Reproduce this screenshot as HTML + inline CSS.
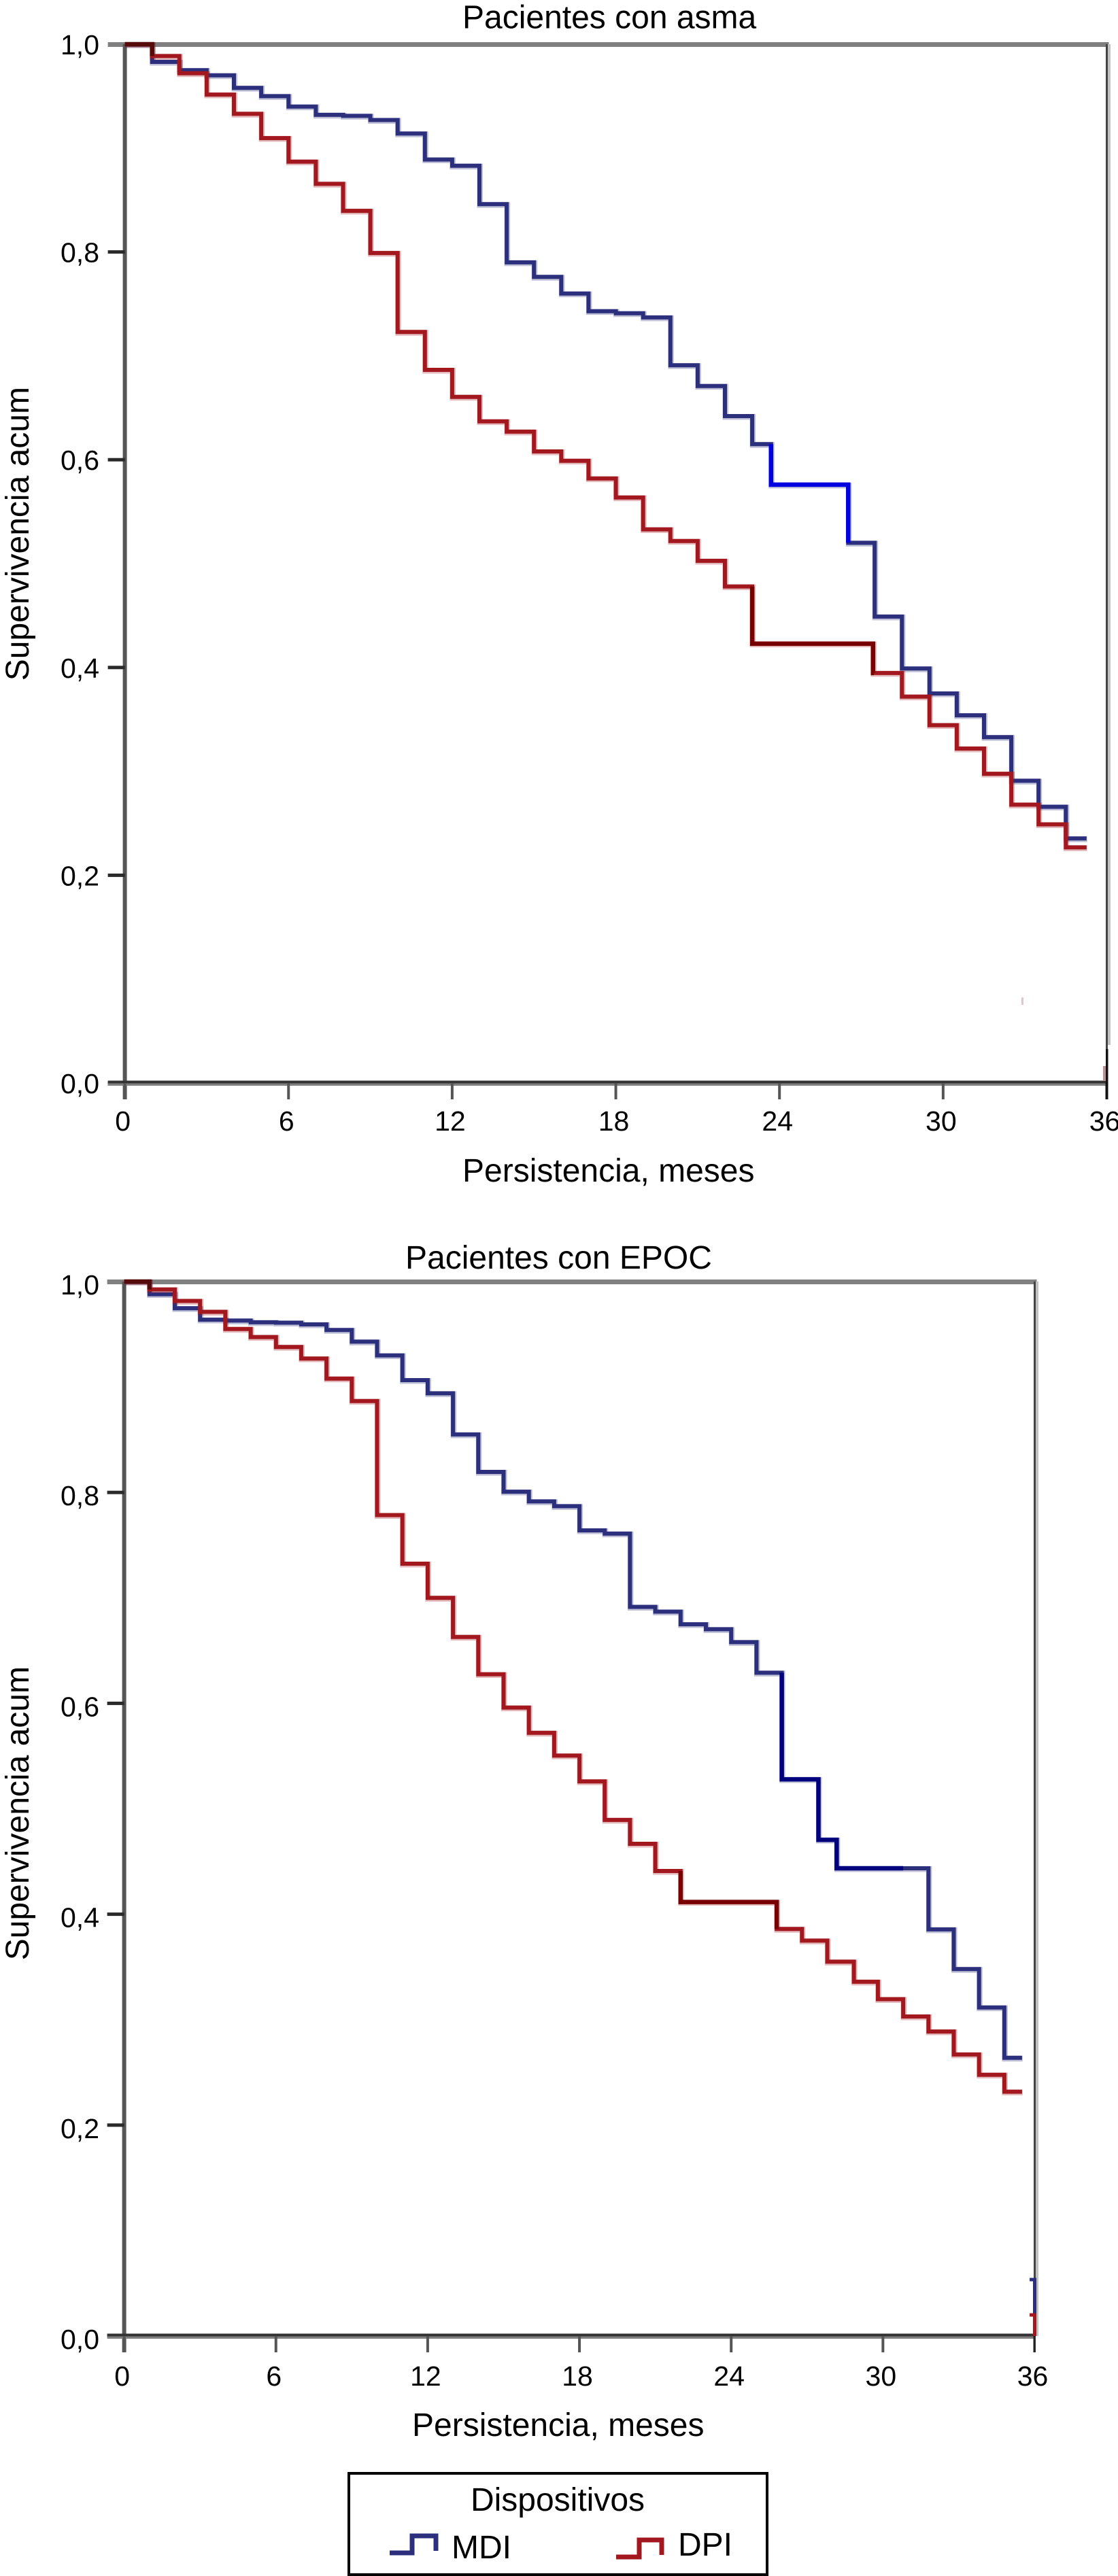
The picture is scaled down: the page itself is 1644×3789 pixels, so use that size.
<!DOCTYPE html>
<html lang="es">
<head>
<meta charset="utf-8">
<title>Persistencia por dispositivo</title>
<style>
html,body{margin:0;padding:0;background:#fff;}
svg{display:block;}
text{font-family:"Liberation Sans",sans-serif;fill:#000;}
</style>
</head>
<body>
<svg id="figure" xmlns="http://www.w3.org/2000/svg" width="1644" height="3789" viewBox="0 0 1644 3789">
  <rect x="0" y="0" width="1644" height="3789" fill="#fff"/>
  <g id="asma-chart"></g>
  <g id="epoc-chart"></g>
  <g>
    <rect x="513" y="3638" width="615" height="149" fill="#fff" stroke="#000" stroke-width="4"/>
    <text x="820" y="3693" font-size="48" text-anchor="middle">Dispositivos</text>
    <g>
      <polyline points="573,3755 606,3755 606,3730 641,3730 641,3752" fill="none" stroke="#2b2f7c" stroke-width="7"/>
      <text x="664" y="3763" font-size="48">MDI</text>
    </g>
    <g>
      <polyline points="906,3761 940,3761 940,3736 973,3736 973,3758" fill="none" stroke="#a3181f" stroke-width="7"/>
      <text x="997" y="3759" font-size="48">DPI</text>
    </g>
  </g>
</svg>
<script>
var xTicks = [0, 6, 12, 18, 24, 30, 36];
var yTicks = [0, 0.2, 0.4, 0.6, 0.8, 1];
var yTickLabels = ["0,0", "0,2", "0,4", "0,6", "0,8", "1,0"];

var asmaMdiTimes = [1,2,3,4,5,6,7,8,9,10,11,12,13,14,15,16,17,18,19,20,21,22,23,23.69,26.52,27.49,28.49,29.5,30.5,31.5,32.5,33.5,34.5];
var asmaMdiSurv = [0.983,0.975,0.970,0.958,0.950,0.940,0.932,0.931,0.927,0.914,0.889,0.883,0.846,0.790,0.776,0.760,0.743,0.741,0.737,0.691,0.671,0.642,0.615,0.576,0.520,0.449,0.399,0.375,0.354,0.333,0.291,0.266,0.2355];
var asmaDpiTimes = [1,2,3,4,5,6,7,8,9,10,11,12,13,14,15,16,17,18,19,20,21,22,23,27.43,28.49,29.5,30.5,31.5,32.5,33.5,34.5];
var asmaDpiSurv = [0.9886,0.972,0.9515,0.933,0.9096,0.887,0.8656,0.8396,0.799,0.723,0.6865,0.6605,0.637,0.627,0.608,0.599,0.582,0.5637,0.533,0.5218,0.5027,0.478,0.423,0.3947,0.372,0.3445,0.322,0.2977,0.268,0.249,0.2268];

var epocMdiTimes = [1,2,3,4,5,6,7,8,9,10,11,12,13,14,15,16,17,18,19,20,21,22,23,24,25,26,27.45,28.17,31.8,32.8,33.8,34.8];
var epocMdiSurv = [0.988,0.9747,0.9638,0.963,0.9614,0.961,0.9594,0.954,0.943,0.930,0.9065,0.894,0.855,0.8195,0.8007,0.7915,0.787,0.764,0.761,0.6915,0.687,0.675,0.6703,0.658,0.629,0.528,0.4706,0.4436,0.3856,0.348,0.3116,0.2638];
var epocDpiTimes = [1,2,3,4,5,6,7,8,9,10,11,12,13,14,15,16,17,18,19,20,21,22,25.8,26.8,27.8,28.85,29.8,30.8,31.8,32.8,33.8,34.8];
var epocDpiSurv = [0.9925,0.9816,0.9713,0.955,0.9474,0.938,0.927,0.908,0.8867,0.7785,0.7324,0.70,0.663,0.6276,0.596,0.572,0.5505,0.526,0.4894,0.4668,0.441,0.4116,0.386,0.375,0.355,0.336,0.3195,0.303,0.2888,0.267,0.2478,0.2317];

var SVG_NS = "http://www.w3.org/2000/svg";

function make(parent, tag, attrs) {
  var el = document.createElementNS(SVG_NS, tag);
  for (var k in attrs) { el.setAttribute(k, attrs[k]); }
  parent.appendChild(el);
  return el;
}

function stepPoints(times, surv, endTime) {
  var pts = [[0, 1]];
  var prev = 1;
  for (var i = 0; i < times.length; i++) {
    pts.push([times[i], prev]);
    pts.push([times[i], surv[i]]);
    prev = surv[i];
  }
  pts.push([endTime, prev]);
  return pts;
}

function rangePoints(times, surv, t0, t1) {
  var prev = 1, pts = [], i;
  for (i = 0; i < times.length && times[i] < t0; i++) { prev = surv[i]; }
  pts.push([t0, prev]);
  for (; i < times.length && times[i] <= t1; i++) {
    pts.push([times[i], prev]);
    pts.push([times[i], surv[i]]);
    prev = surv[i];
  }
  pts.push([t1, prev]);
  return pts;
}

function drawChart(root, cfg) {
  function X(t) { return cfg.x0 + (t / 36) * (cfg.x36 - cfg.x0); }
  function Y(v) { return cfg.y0 - v * (cfg.y0 - cfg.y1); }
  function toStr(pts) { return pts.map(function (p) { return X(p[0]).toFixed(1) + "," + Y(p[1]).toFixed(1); }).join(" "); }

  var rTop = make(root, "rect", {x: X(0) - 25, y: Y(1) - 3, width: X(36) - X(0) + 28, height: 7, fill: "#808080"});
  
  
  var rRightLight = make(root, "rect", {x: X(36) + 1.5, y: Y(1), width: 4, height: cfg.lightEnd - Y(1), fill: "#c2c2c2"});
  
  
  var rRight = make(root, "rect", {x: X(36) - 1.5, y: Y(1), width: 3, height: Y(0) + 24 - Y(1), fill: "#444"});
  
  

  var rLeft = make(root, "rect", {x: X(0) - 3, y: Y(1), width: 6, height: Y(0) + 24 - Y(1), fill: "#555"});
  
  

  yTicks.forEach(function (v, i) {
    if (v < 1) {
      var t = make(root, "rect", {x: X(0) - 25, y: Y(v) - 2.5, width: 25, height: 5, fill: "#2a2a2a"});
      
      
    }
    var lab = make(root, "text", {x: cfg.yLabelX, y: Y(v) + cfg.yLabelDy, "font-size": 41, "text-anchor": "end"});
    
    
    lab.textContent = yTickLabels[i];
  });

  var axisDark = make(root, "rect", {x: X(0) - 25, y: Y(0) - 3.5, width: X(36) - X(0) + 25, height: 4, fill: "#333"});
  
  
  var axisShade = make(root, "rect", {x: X(0) - 25, y: Y(0) + 0.5, width: X(36) - X(0) + 25, height: 3.5, fill: "#808080"});
  
  

  xTicks.forEach(function (t) {
    var tk = make(root, "rect", {x: X(t) - 2, y: Y(0), width: t === 36 ? 3 : 4, height: 24, fill: t === 36 ? "#222" : "#555"});
    
    
    var lab = make(root, "text", {x: X(t) - 3, y: cfg.xLabelY, "font-size": 41, "text-anchor": "middle"});
    
    
    lab.textContent = String(t);
  });

  cfg.series.forEach(function (s) {
    var pts = toStr(stepPoints(s.times, s.surv, s.end));
    var halo = make(root, "polyline", {points: pts, fill: "none", stroke: s.color, "stroke-width": 8.5, "stroke-opacity": 0.3, transform: "translate(0.8,1.2)", "stroke-linejoin": "miter"});
    
    
    var line = make(root, "polyline", {points: pts, fill: "none", stroke: s.color, "stroke-width": 6, "stroke-linejoin": "miter"});
    
    
    s.highlights.forEach(function (h) {
      var over = make(root, "polyline", {points: toStr(rangePoints(s.times, s.surv, h.from, h.to)), fill: "none", stroke: h.color, "stroke-width": 6.5, "stroke-linejoin": "miter"});
      
      
    });
  });

  var title = make(root, "text", {x: cfg.titleX, y: cfg.titleY, "font-size": 48});
  
  
  title.textContent = cfg.title;

  var xTitle = make(root, "text", {x: cfg.xTitleX, y: cfg.xTitleY, "font-size": cfg.xTitleSize});
  
  
  xTitle.textContent = "Persistencia, meses";

  var yTitle = make(root, "text", {x: 0, y: 0, "font-size": 48, "text-anchor": "end", transform: "translate(42," + cfg.yTitleTop + ") rotate(-90)"});
  
  
  yTitle.textContent = "Supervivencia acum";

  return {X: X, Y: Y};
}

var asmaAxes = drawChart(document.getElementById("asma-chart"), {
  x0: 183.6, x36: 1627.5, y0: 1593, y1: 65, lightEnd: 1537,
  yLabelX: 146, yLabelDy: 15, xLabelY: 1663,
  title: "Pacientes con asma", titleX: 680, titleY: 41.5,
  xTitleX: 680, xTitleY: 1738, xTitleSize: 48, yTitleTop: 569,
  series: [
    {name: "mdi-asma", color: "#2b2f7c", times: asmaMdiTimes, surv: asmaMdiSurv, end: 35.26,
     highlights: [{from: 23.69, to: 26.52, color: "#0000e0"}]},
    {name: "dpi-asma", color: "#a3181f", times: asmaDpiTimes, surv: asmaDpiSurv, end: 35.26,
     highlights: [{from: 0, to: 1, color: "#560a0a"}, {from: 23, to: 27.46, color: "#780000"}]}
  ]
});

var epocAxes = drawChart(document.getElementById("epoc-chart"), {
  x0: 182.6, x36: 1521.5, y0: 3436, y1: 1885, lightEnd: 3436,
  yLabelX: 146, yLabelDy: 19, xLabelY: 3509,
  title: "Pacientes con EPOC", titleX: 596, titleY: 1866,
  xTitleX: 606, xTitleY: 3583, xTitleSize: 48, yTitleTop: 2451,
  series: [
    {name: "mdi-epoc", color: "#2b2f7c", times: epocMdiTimes, surv: epocMdiSurv, end: 35.5,
     highlights: [{from: 26, to: 30.8, color: "#00007f"}]},
    {name: "dpi-epoc", color: "#a3181f", times: epocDpiTimes, surv: epocDpiSurv, end: 35.5,
     highlights: [{from: 0, to: 1, color: "#560a0a"}, {from: 22, to: 25.8, color: "#780000"}]}
  ]
});

var epocTailTimes = [35.8, 36];
var epocMdiTail = [0.0535, 0];
var epocDpiTail = [0.02, 0];

var tailMdi = make(document.getElementById("epoc-chart"), "polyline", {
  points: epocAxes.X(epocTailTimes[0]) + "," + epocAxes.Y(epocMdiTail[0]) + " " + epocAxes.X(epocTailTimes[1]) + "," + epocAxes.Y(epocMdiTail[0]) + " " + epocAxes.X(epocTailTimes[1]) + "," + epocAxes.Y(epocMdiTail[1]),
  fill: "none", stroke: "#2b2f7c", "stroke-width": 5});


var tailDpi = make(document.getElementById("epoc-chart"), "polyline", {
  points: epocAxes.X(epocTailTimes[0]) + "," + epocAxes.Y(epocDpiTail[0]) + " " + epocAxes.X(epocTailTimes[1]) + "," + epocAxes.Y(epocDpiTail[0]) + " " + epocAxes.X(epocTailTimes[1]) + "," + epocAxes.Y(epocDpiTail[1]),
  fill: "none", stroke: "#a3181f", "stroke-width": 5});



var asmaChart = document.getElementById("asma-chart");
var cornerBlack = make(asmaChart, "rect", {x: 1626, y: 1543, width: 3.5, height: 74, fill: "#161014"});


var cornerPink = make(asmaChart, "rect", {x: 1622, y: 1568, width: 4, height: 22, fill: "#b89098"});


var speck = make(asmaChart, "rect", {x: 1502, y: 1467, width: 3, height: 11, fill: "#dcc8ce"});


</script>
</body>
</html>
